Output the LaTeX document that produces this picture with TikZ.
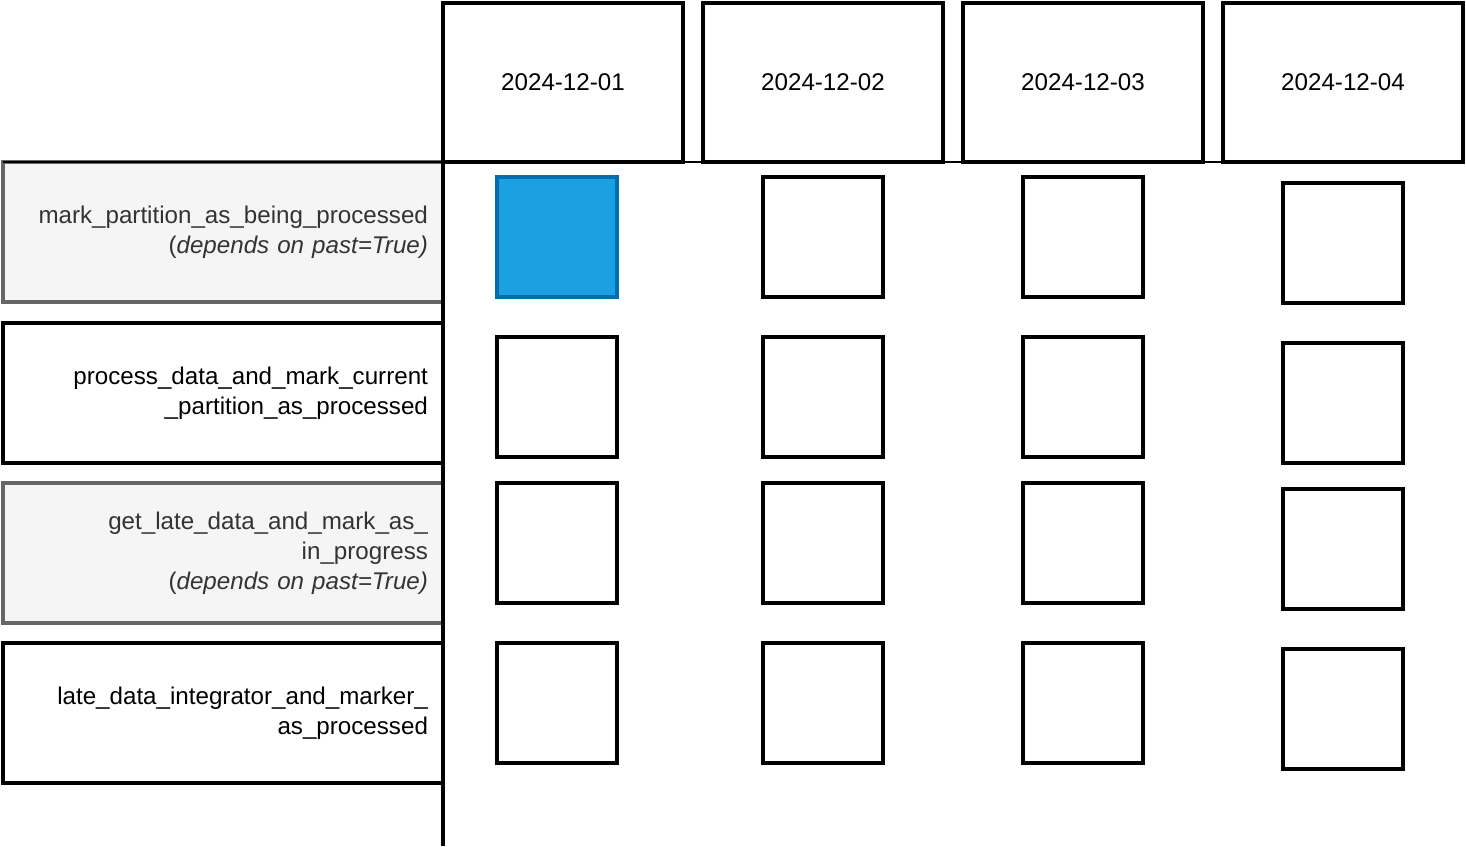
\documentclass[tikz,border=0pt]{standalone}
\usepackage{fontspec}
\setmainfont{Liberation Sans}
\definecolor{runfill}{HTML}{1BA1E2}
\definecolor{runedge}{HTML}{006EAF}
\definecolor{pastfill}{HTML}{F5F5F5}
\definecolor{pastedge}{HTML}{666666}
\definecolor{pasttext}{HTML}{333333}

\tikzset{
  datebox/.style={draw, line width=2pt, minimum width=4.8cm, minimum height=3.18cm},
  taskbox/.style={draw, line width=2pt, minimum width=8.8cm, minimum height=2.8cm,
    text width=8.2cm, align=right, inner sep=0pt},
  pastbox/.style={taskbox, draw=pastedge, fill=pastfill, text=pasttext},
  runbox/.style={draw, line width=2pt, minimum size=2.4cm, inner sep=0pt},
  runbusy/.style={runbox, draw=runedge, fill=runfill},
}

\begin{document}
\begin{tikzpicture}[x=0.02cm, y=-0.02cm, font=\fontsize{13.75}{17.2}\selectfont]
    \useasboundingbox (0,0) rectangle (1466,846);

    % dates
    \foreach \d/\x [count=\i] in {01/563,02/823,03/1083,04/1343}
        \node[datebox] (date\i) at (\x,82.5) {2024-12-\d};

    % tasks
    \node[pastbox] (task1) at (223,232) {mark\_partition\_as\_being\_processed\\(\textit{depends on past=True)}};
    \node[taskbox] (task2) at (223,393) {process\_data\_and\_mark\_current\\\_partition\_as\_processed};
    \node[pastbox] (task3) at (223,553) {get\_late\_data\_and\_mark\_as\_\\in\_progress\\(\textit{depends on past=True)}};
    \node[taskbox] (task4) at (223,713) {late\_data\_integrator\_and\_marker\_\\as\_processed};

    % grid lines
    \coordinate (rowleft) at (3,162);
    \coordinate (rowright) at (1463,162);
    \coordinate (axtop) at (443,3);
    \coordinate (axbot) at (443,846);
    \draw[line width=1.4pt] (rowleft) -- (rowright);
    \draw[line width=2pt] (axtop) -- (axbot);

    % task runs
    \node[runbusy] (run11) at (557,237) {};
    \foreach \y [count=\r from 2] in {397,543,703}
        \node[runbox] (run\r1) at (557,\y) {};
    \foreach \x/\dy [count=\c from 2] in {823/0,1083/0,1343/6}
        \foreach \y [count=\r] in {237,397,543,703}
            \node[runbox] (run\r\c) at (\x,\y+\dy) {};
\end{tikzpicture}
\end{document}
